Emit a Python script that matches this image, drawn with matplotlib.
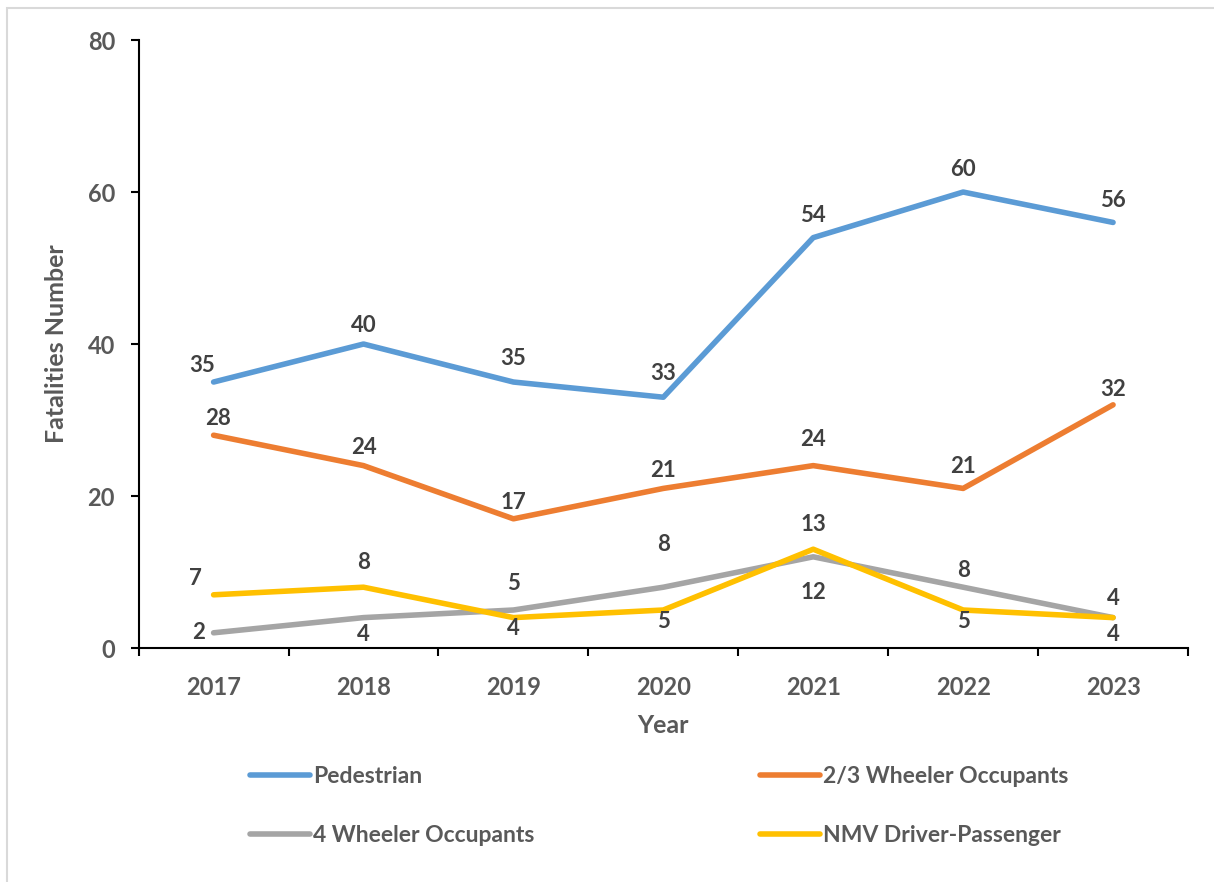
import matplotlib.pyplot as plt
from matplotlib.patches import Rectangle

years = ['2017', '2018', '2019', '2020', '2021', '2022', '2023']
pedestrian = [35, 40, 35, 33, 54, 60, 56]
two_three_wheeler = [28, 24, 17, 21, 24, 21, 32]
four_wheeler = [2, 4, 5, 8, 12, 8, 4]
nmv = [7, 8, 4, 5, 13, 5, 4]

series = [
    ('Pedestrian', pedestrian, '#5B9BD5'),
    ('2/3 Wheeler Occupants', two_three_wheeler, '#ED7D31'),
    ('4 Wheeler Occupants', four_wheeler, '#A5A5A5'),
    ('NMV Driver-Passenger', nmv, '#FFC000'),
]

# label offsets (points) from each data point, per year
offsets = {
    'Pedestrian': [(-8, 12), (0, 13), (0, 17), (0, 17), (0, 16), (0, 16), (0, 16)],
    '2/3 Wheeler Occupants': [(3, 12), (0, 13), (0, 12), (0, 13), (0, 19), (0, 16), (0, 11)],
    '4 Wheeler Occupants': [(-11, 0), (0, -12), (0, 19), (0, 31), (0, -26), (0, 12), (0, 14)],
    'NMV Driver-Passenger': [(-13, 12), (0, 18), (0, -8), (0, -8), (0, 18), (0, -8), (0, -12)],
}

plt.rcParams['font.family'] = ['Lato', 'DejaVu Sans']
plt.rcParams['font.weight'] = 'bold'

fig = plt.figure(figsize=(12.14, 8.82), dpi=100)
ax = fig.add_axes([0.1142, 0.2653, 0.8644, 0.6893])

x = list(range(len(years)))
for name, vals, col in series:
    ax.plot(x, vals, color=col, lw=4, label=name, solid_joinstyle='round',
            solid_capstyle='round')
    for i, v in enumerate(vals):
        dx, dy = offsets[name][i]
        ax.annotate(str(v), (i, v), xytext=(dx, dy), textcoords='offset points',
                    ha='center', va='center',
                    fontsize=16, fontweight='bold', color='#404040')

ax.set_xlim(-0.5, 6.5)
ax.set_ylim(0, 80)
ax.set_yticks([0, 20, 40, 60, 80])
ax.set_xticks(x)
ax.set_xticklabels(years)
ax.set_xticks([i + 0.5 for i in range(-1, 7)], minor=True)
ax.tick_params(axis='x', which='major', length=0, pad=20, labelsize=17, labelcolor='#595959')
ax.tick_params(axis='x', which='minor', length=6, width=1.5, direction='out')
ax.tick_params(axis='y', length=6, width=1.5, pad=11, labelsize=17, labelcolor='#595959')
for s in ['top', 'right']:
    ax.spines[s].set_visible(False)
for s in ['left', 'bottom']:
    ax.spines[s].set_linewidth(1.5)

ax.set_xlabel('Year', fontsize=18, fontweight='bold', color='#595959', labelpad=11)
ax.set_ylabel('Fatalities Number', fontsize=18, fontweight='bold', color='#595959', labelpad=14)

handles, labels = ax.get_legend_handles_labels()
legend_kw = dict(loc='upper left', frameon=False, handlelength=2.6, handletextpad=0.15,
                 labelspacing=1.67, fontsize=16.5, labelcolor='#595959')
fig.legend([handles[0], handles[2]], [labels[0], labels[2]],
           bbox_to_anchor=(0.189, 0.155), **legend_kw)
fig.legend([handles[1], handles[3]], [labels[1], labels[3]],
           bbox_to_anchor=(0.609, 0.155), **legend_kw)

fig.patches.append(Rectangle((0.006, -0.01), 1.0, 1.001, transform=fig.transFigure,
                             fill=False, edgecolor='#D9D9D9', lw=1.5))

fig.savefig('out.png', dpi=100)
